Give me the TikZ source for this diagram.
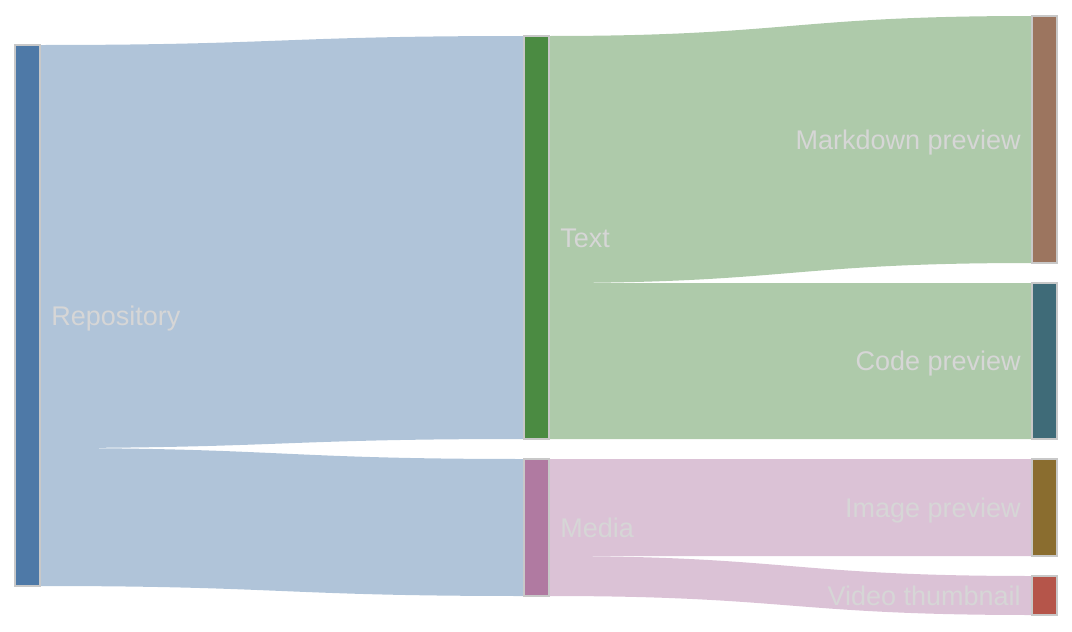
\documentclass[tikz,border=0pt]{standalone}
\usepackage{fontspec}
\setmainfont{Liberation Sans}
\usetikzlibrary{calc}
\definecolor{repoC}{HTML}{4E79A7}
\definecolor{repoF}{HTML}{B0C4D9}
\definecolor{textC}{HTML}{4B8B42}
\definecolor{textF}{HTML}{AECAAA}
\definecolor{mediaC}{HTML}{B07AA1}
\definecolor{mediaF}{HTML}{DBC2D6}
\definecolor{mdC}{HTML}{9C755F}
\definecolor{codeC}{HTML}{3F6B78}
\definecolor{imgC}{HTML}{8A6D2F}
\definecolor{vidC}{HTML}{B5554A}
\definecolor{borderC}{HTML}{C8C8C8}
\definecolor{labelC}{HTML}{D6D6D6}
\newcommand{\sankeyflow}[7]{%
  \fill[#1] let \p1=($(#2.north east)+(0,#3)$), \p2=($(#2.north east)+(0,#4)$),
    \p3=($(#5.north west)+(0,#6)$), \p4=($(#5.north west)+(0,#7)$) in
    (\p1) .. controls ({(\x1+\x3)/2},\y1) and ({(\x1+\x3)/2},\y3) .. (\p3)
    -- (\p4) .. controls ({(\x1+\x3)/2},\y4) and ({(\x1+\x3)/2},\y2) .. (\p2) -- cycle;}
\begin{document}
\begin{tikzpicture}[x=0.75pt,y=-0.75pt,
  sbar/.style={draw=borderC, line width=1.5pt, outer sep=0pt, inner sep=0pt, minimum width=18.75pt},
  lab/.style={text=labelC, inner sep=0pt, font=\fontsize{20.25pt}{24pt}\selectfont}]
\useasboundingbox (0,0) rectangle (1072,632);
% node rectangles (placed first, drawn on top later via layers)
\path (27.5,315.5) node[sbar, minimum height=405.75pt] (repo) {};
\path (536,237.5) node[sbar, minimum height=302.25pt] (text) {};
\path (536,527.5) node[sbar, minimum height=102.75pt] (media) {};
\path (1044,139.5) node[sbar, minimum height=185.25pt] (md) {};
\path (1044,361) node[sbar, minimum height=117pt] (code) {};
\path (1044,507.5) node[sbar, minimum height=72.75pt] (img) {};
\path (1044,595.5) node[sbar, minimum height=29.25pt] (vid) {};
% flows
\sankeyflow{repoF}{repo}{0}{403}{text}{0}{403}
\sankeyflow{repoF}{repo}{403}{541}{media}{0}{137}
\sankeyflow{textF}{text}{0}{247}{md}{0}{247}
\sankeyflow{textF}{text}{247}{403}{code}{0}{156}
\sankeyflow{mediaF}{media}{0}{97}{img}{0}{97}
\sankeyflow{mediaF}{media}{97}{137}{vid}{0}{39}
% redraw nodes on top
\path (27.5,315.5) node[sbar, fill=repoC, minimum height=405.75pt] (repoTop) {};
\path (536,237.5) node[sbar, fill=textC, minimum height=302.25pt] (textTop) {};
\path (536,527.5) node[sbar, fill=mediaC, minimum height=102.75pt] (mediaTop) {};
\path (1044,139.5) node[sbar, fill=mdC, minimum height=185.25pt] (mdTop) {};
\path (1044,361) node[sbar, fill=codeC, minimum height=117pt] (codeTop) {};
\path (1044,507.5) node[sbar, fill=imgC, minimum height=72.75pt] (imgTop) {};
\path (1044,595.5) node[sbar, fill=vidC, minimum height=29.25pt] (vidTop) {};
% labels
\node[lab, anchor=base west] (repoL) at (51,325) {Repository};
\node[lab, anchor=base west] (textL) at (560,247) {Text};
\node[lab, anchor=base west] (mediaL) at (560,537) {Media};
\node[lab, anchor=base east] (mdL) at (1021,149) {Markdown preview};
\node[lab, anchor=base east] (codeL) at (1021,370) {Code preview};
\node[lab, anchor=base east] (imgL) at (1021,517) {Image preview};
\node[lab, anchor=base east] (vidL) at (1021,605) {Video thumbnail};
\end{tikzpicture}
\end{document}
